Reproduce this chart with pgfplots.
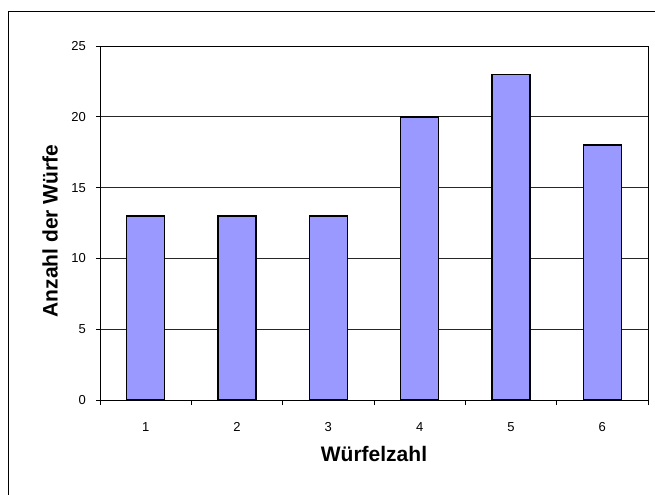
\documentclass[border=0pt]{standalone}
\usepackage{fontspec}
\setmainfont{Liberation Sans}
\usepackage{pgfplots}
\pgfplotsset{compat=1.18}
\definecolor{barblue}{HTML}{9999FF}
\begin{document}
\begin{tikzpicture}
\useasboundingbox (0bp,0bp) rectangle (655bp,495bp);
\draw[line width=1bp] (655bp,483bp) -- (8bp,483bp) -- (8bp,0bp);
\begin{axis}[
  at={(100bp,95bp)}, anchor=south west, scale only axis,
  width=548bp, height=354bp,
  xmin=0.5, xmax=6.5, ymin=0, ymax=25,
  ytick={0,5,...,25}, xtick={1,...,6},
  minor xtick={0.5,1.5,...,6.5},
  tick pos=left, tick align=outside,
  major x tick style={draw=none},
  minor tick length=5bp, major tick length=4bp,
  tick style={black, line width=0.8bp},
  ymajorgrids, major grid style={black!85, line width=0.7bp},
  axis line style={black, line width=0.9bp},
  /pgf/number format/assume math mode=true,
  tick label style={font=\fontsize{13bp}{15bp}\selectfont},
  yticklabel style={anchor=east, inner sep=0pt, xshift=-10bp},
  xticklabel style={anchor=base, inner sep=0pt, yshift=-27bp},
  xlabel={Würfelzahl},
  xlabel style={at={(axis description cs:0.5,-0.1751)}, anchor=base, font=\fontsize{21bp}{24bp}\selectfont\bfseries},
  ylabel={Anzahl der Würfe},
  ylabel style={at={(axis description cs:-0.0912,0.477)}, anchor=center, font=\fontsize{21bp}{24bp}\selectfont\bfseries},
]
\addplot[ybar, bar width=38bp, fill=barblue, draw=black, line width=1.6bp]
  coordinates {(1,13) (2,13) (3,13) (4,20) (5,23) (6,18)};
\end{axis}
\end{tikzpicture}
\end{document}
